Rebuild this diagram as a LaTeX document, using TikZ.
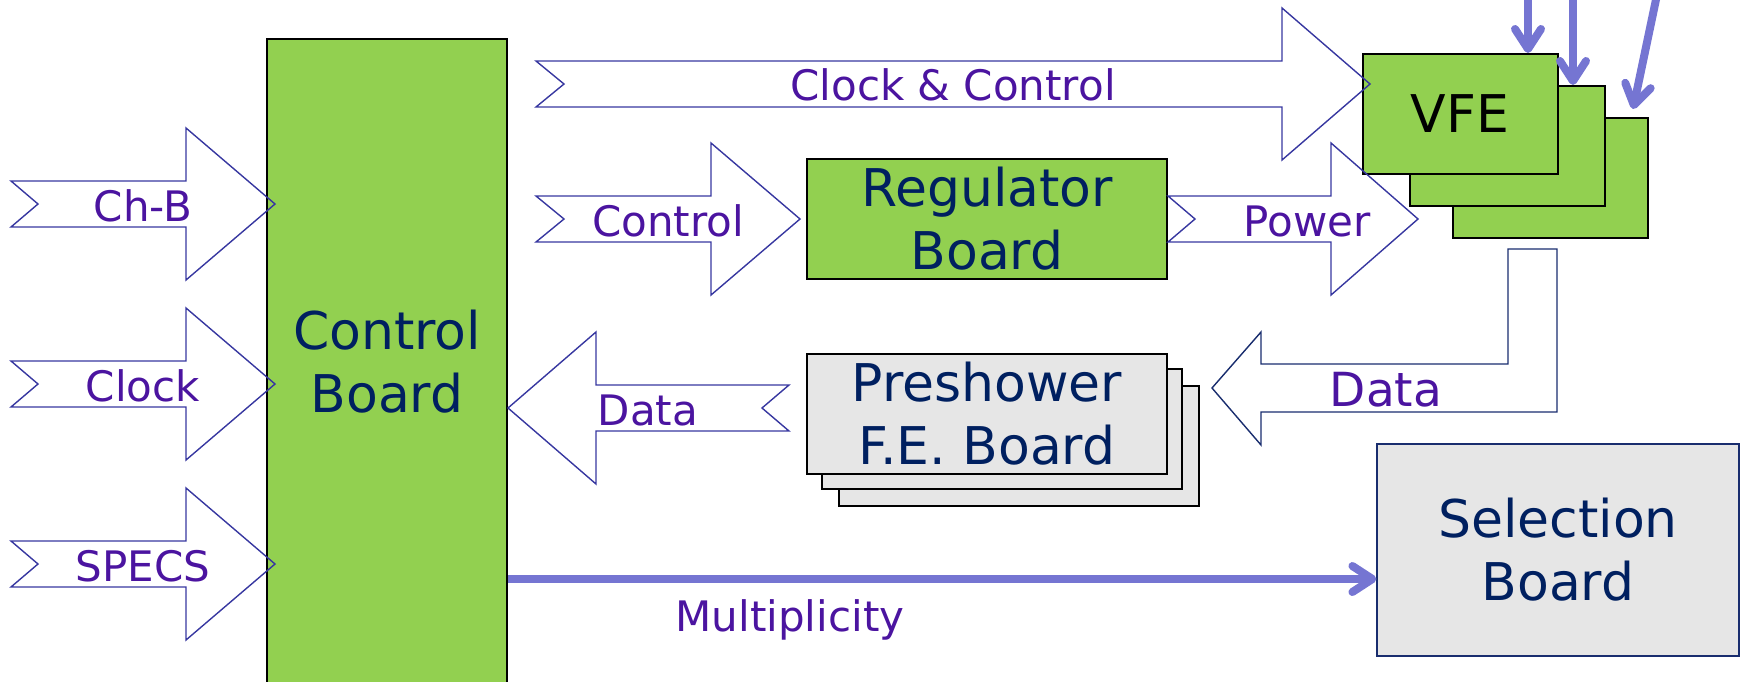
\documentclass[tikz,border=0pt]{standalone}
\usepackage{fontspec}
\setmainfont{DejaVu Sans}
\usetikzlibrary{arrows.meta}
\definecolor{boardgreen}{HTML}{92D050}
\definecolor{boardgrey}{HTML}{E6E6E6}
\definecolor{boardtext}{HTML}{002060}
\definecolor{labeltext}{RGB}{75,20,160}
\definecolor{outline}{RGB}{55,55,160}
\definecolor{darkoutline}{RGB}{25,45,110}
\definecolor{feedcol}{RGB}{117,117,210}

% hollow block arrow: tail, notch, head base, tip, centre line
\newcommand\fatarrow[5]{%
  \draw[blockarrow] (#1,#5-23) -- (#3,#5-23) -- (#3,#5-76) -- (#4,#5)
    -- (#3,#5+76) -- (#3,#5+23) -- (#1,#5+23) -- (#2,#5) -- cycle;}

\begin{document}
\begin{tikzpicture}[x=1pt,y=-1pt,
    board/.style={draw=black,line width=2pt,minimum width=360pt,
                  minimum height=120pt,align=center,text=boardtext,
                  font=\fontsize{52}{63}\selectfont},
    greenboard/.style={board,fill=boardgreen},
    greyboard/.style={board,fill=boardgrey},
    blockarrow/.style={draw=outline,line width=1.4pt,line join=miter},
    lbl/.style={text=labeltext,font=\fontsize{42}{50}\selectfont,
                anchor=base,inner sep=0pt},
    feed/.style={draw=feedcol,line width=8pt,
                 -{Straight Barb[round,length=20pt,width=26pt]}}]
  \useasboundingbox (0,0) rectangle (1743,681);

  % boards
  \node[greenboard,minimum width=240pt,minimum height=646pt] (ctrl) at (387,362) {Control\\Board};
  \node[greenboard] (reg) at (987,219) {Regulator\\Board};
  \node[greyboard] (pre3) at (1019,446) {};
  \node[greyboard] (pre2) at (1002,429) {};
  \node[greyboard] (pre) at (987,414) {Preshower\\F.E. Board};
  \node[greenboard,minimum width=195pt] (vfe3) at (1550,178) {};
  \node[greenboard,minimum width=195pt] (vfe2) at (1507,146) {};
  \node[greenboard,minimum width=195pt,text=black] (vfe) at (1460,114) {VFE};
  \node[greyboard,draw=darkoutline,line width=1.2pt,minimum width=362pt,
        minimum height=212pt] (sel) at (1558,550) {Selection\\Board};

  % inputs of the control board
  \foreach \y/\name/\txt in {204/chb/Ch-B,384/clk/Clock,564/specs/SPECS} {
    \fatarrow{11}{38}{186}{275}{\y}
    \node[lbl] (\name) at (143,\y+17) {\txt};
  }

  % clock, control and power lines
  \fatarrow{536}{564}{1282}{1370}{84}
  \node[lbl] (clkctl) at (953,100) {Clock \& Control};
  \fatarrow{536}{564}{711}{800}{219}
  \node[lbl] (ctl) at (668,236) {Control};
  \fatarrow{1168}{1195}{1331}{1418}{219}
  \node[lbl] (pwr) at (1307,236) {Power};

  % data back to the control board
  \fatarrow{789}{762}{596}{508}{408}
  \node[lbl] (datal) at (648,425) {Data};
  \draw[blockarrow,draw=darkoutline] (1508,249) -- (1557,249) -- (1557,412)
    -- (1261,412) -- (1261,445) -- (1212,388) -- (1261,332) -- (1261,364)
    -- (1508,364) -- cycle;
  \node[lbl,font=\fontsize{47}{56}\selectfont] (datar) at (1386,406) {Data};

  % multiplicity
  \coordinate (m) at (0,579);
  \draw[feed] (ctrl.east |- m) -- (sel.west |- m);
  \node[lbl] (mult) at (790,631) {Multiplicity};

  % feeds into the VFE boards
  \coordinate (f1) at (1528,-10);
  \coordinate (f2) at (1573,-10);
  \coordinate (f3) at (1658,-10);
  \coordinate (t3) at (1633,109);
  \draw[feed] (f1) -- (f1 |- vfe.north);
  \draw[feed] (f2) -- (f2 |- vfe2.north);
  \draw[feed] (f3) -- (t3);
\end{tikzpicture}
\end{document}
